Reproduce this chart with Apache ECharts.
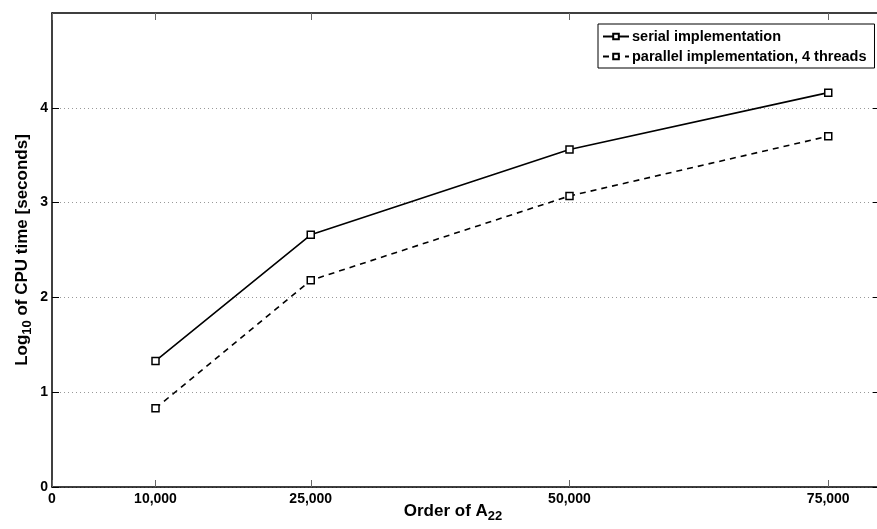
<!DOCTYPE html>
<html>
<head>
<meta charset="utf-8">
<script src="https://cdn.jsdelivr.net/npm/echarts@6/dist/echarts.min.js"></script>
<style>html,body{margin:0;padding:0;background:#fff}#c{width:877px;height:529px}</style>
</head>
<body>
<div id="c"></div>
<script>
const orders = [10000, 25000, 50000, 75000];
const serialLog = [1.33, 2.66, 3.56, 4.16];
const parallelLog = [0.83, 2.18, 3.07, 3.70];
const xTicks = [0, 10000, 25000, 50000, 75000];
const yTicks = [0, 1, 2, 3, 4];
const seriesNames = ['serial implementation', 'parallel implementation, 4 threads'];

const chart = echarts.init(document.getElementById('c'), null, {renderer: 'canvas'});
const fam = '"Liberation Sans", Arial, Helvetica, sans-serif';
const fmt = v => v.toLocaleString('en-US');
const tickCol = '#666';

const option = {
  animation: false,
  backgroundColor: '#fff',
  textStyle: {fontFamily: fam},
  grid: {left: 52, top: 13, right: -3, bottom: 42, containLabel: false, outerBoundsMode: 'none'},
  legend: {
    left: 598, top: 24,
    orient: 'vertical',
    backgroundColor: '#fff',
    borderColor: '#000', borderWidth: 1,
    padding: [5, 8, 4, 4],
    itemGap: 5, itemWidth: 26, itemHeight: 7,
    textStyle: {fontFamily: fam, fontWeight: 'bold', fontSize: 14.5, color: '#000', padding: [0,0,0,-2]},
    data: seriesNames
  },
  xAxis: [{
    type: 'value', min: 0, max: 80000, position: 'bottom',
    axisLine: {onZero: false, lineStyle: {color: '#000', width: 1.5}},
    axisTick: {inside: true, length: 7, customValues: xTicks, lineStyle: {color: tickCol}},
    axisLabel: {customValues: xTicks, formatter: v => fmt(v), color: '#000', fontWeight: 'bold', fontSize: 14, margin: 5, fontFamily: fam},
    splitLine: {show: false},
    name: '{m|Order of A}{s|22}', nameLocation: 'middle', nameGap: 16, nameMoveOverlap: false,
    nameTextStyle: {
      padding: [0, 26, 0, 0],
      rich: {
        m: {fontFamily: fam, fontWeight: 'bold', fontSize: 17, color: '#000', verticalAlign: 'top', lineHeight: 20},
        s: {fontFamily: fam, fontWeight: 'bold', fontSize: 13, color: '#000', verticalAlign: 'bottom', lineHeight: 20, padding: [11, 0, 0, 0]}
      }
    }
  }, {
    type: 'value', min: 0, max: 80000, position: 'top',
    axisLine: {onZero: false, lineStyle: {color: '#000', width: 1.5}},
    axisTick: {inside: true, length: 7, customValues: xTicks, lineStyle: {color: tickCol}},
    axisLabel: {show: false},
    splitLine: {show: false}
  }],
  yAxis: [{
    type: 'value', min: 0, max: 5, interval: 1, position: 'left',
    axisLine: {show: true, onZero: false, lineStyle: {color: '#000', width: 1.5}},
    axisTick: {show: true, inside: true, length: 7, customValues: yTicks, lineStyle: {color: '#000'}},
    axisLabel: {customValues: yTicks, color: '#000', fontWeight: 'bold', fontSize: 14, margin: 4, fontFamily: fam},
    splitLine: {show: true, lineStyle: {color: '#999', type: [1, 3], width: 1}},
    name: '{m|Log}{s|10}{m| of CPU time [seconds]}', nameLocation: 'middle', nameGap: 18, nameRotate: 90, nameMoveOverlap: false,
    nameTextStyle: {
      rich: {
        m: {fontFamily: fam, fontWeight: 'bold', fontSize: 17, color: '#000', verticalAlign: 'top', lineHeight: 20},
        s: {fontFamily: fam, fontWeight: 'bold', fontSize: 13, color: '#000', verticalAlign: 'bottom', lineHeight: 20, padding: [11, 0, 0, 0]}
      }
    }
  }, {
    type: 'value', min: 0, max: 5, interval: 1, position: 'right',
    axisLine: {show: true, onZero: false, lineStyle: {color: '#000', width: 1.5}},
    axisTick: {show: true, inside: true, length: 7, customValues: yTicks, lineStyle: {color: '#000'}},
    axisLabel: {show: false},
    splitLine: {show: false}
  }],
  series: [{
    name: seriesNames[0], type: 'line',
    data: orders.map((o, i) => [o, serialLog[i]]),
    symbol: 'rect', symbolSize: 7,
    itemStyle: {color: '#fff', borderColor: '#000', borderWidth: 1.5},
    lineStyle: {color: '#000', width: 1.6, type: 'solid'}
  }, {
    name: seriesNames[1], type: 'line',
    data: orders.map((o, i) => [o, parallelLog[i]]),
    symbol: 'rect', symbolSize: 7,
    itemStyle: {color: '#fff', borderColor: '#000', borderWidth: 1.5},
    lineStyle: {color: '#000', width: 1.6, type: [6, 5]}
  }]
};
chart.setOption(option);
</script>
</body>
</html>
